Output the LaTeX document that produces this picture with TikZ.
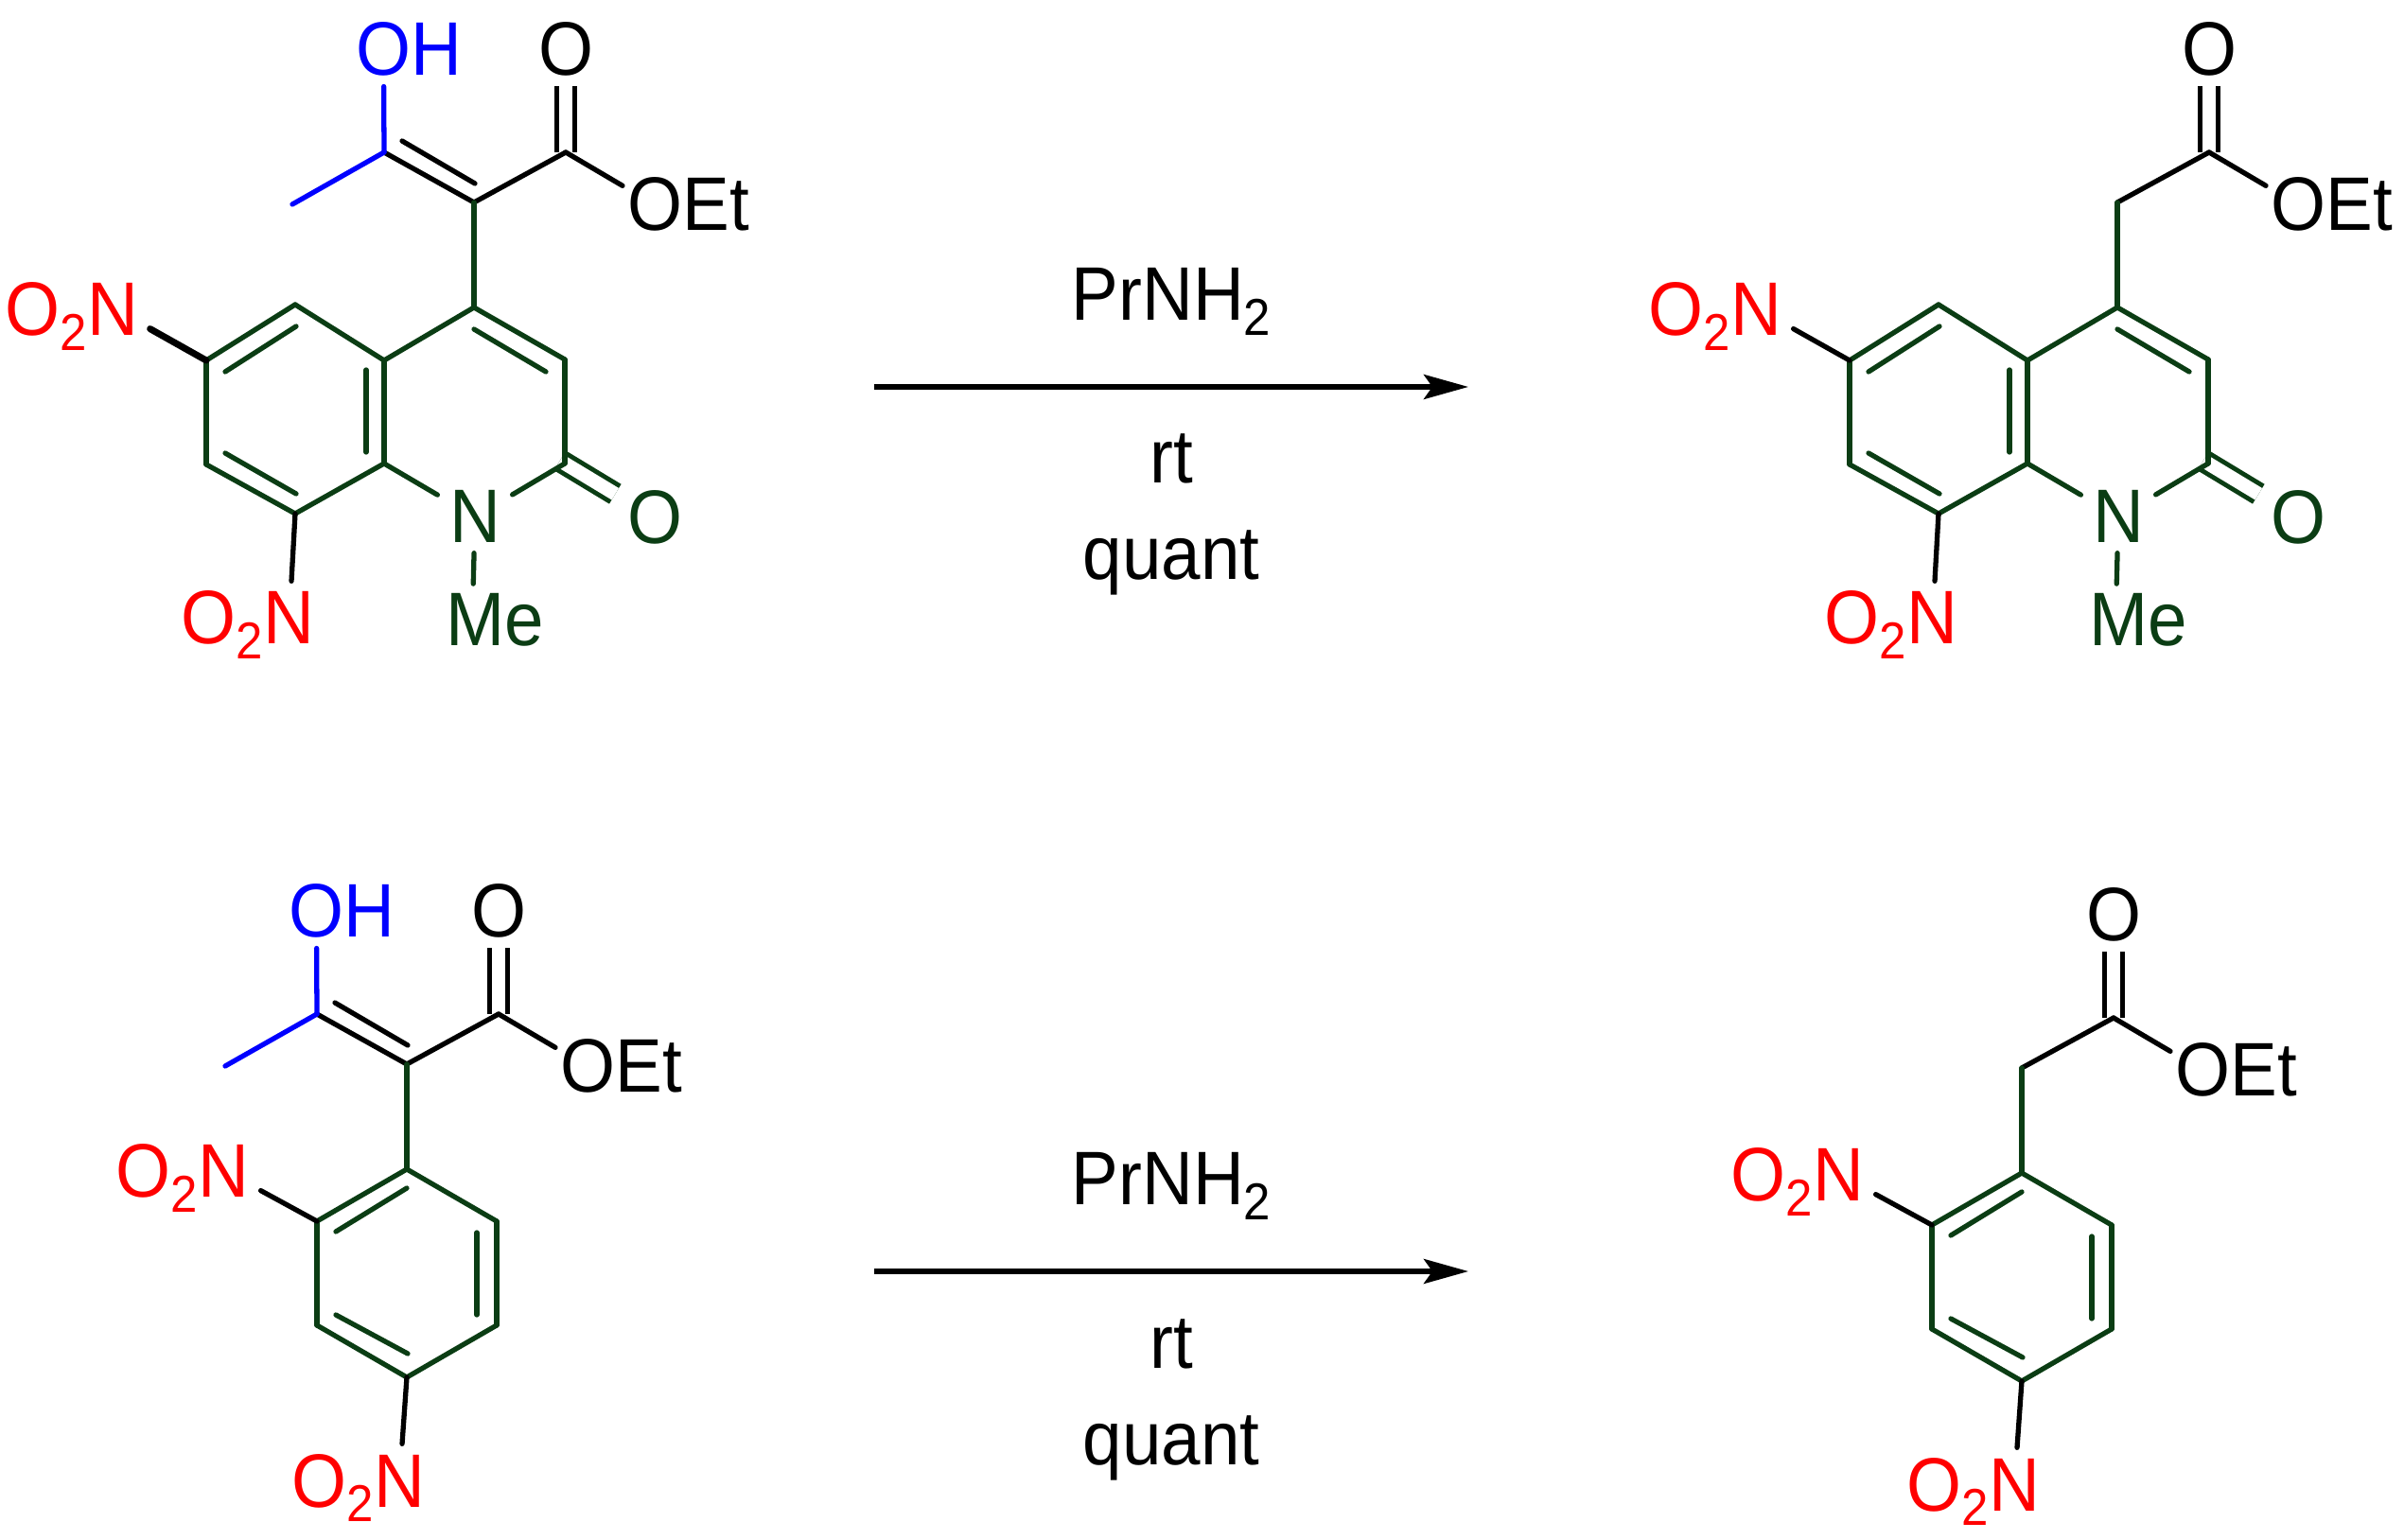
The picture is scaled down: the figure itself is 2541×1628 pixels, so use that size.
\documentclass[tikz,border=0pt]{standalone}
\usepackage{fontspec}
\usepackage{xcolor}
\usetikzlibrary{arrows.meta}

\newfontfamily\chemfont[FakeStretch=0.93]{Liberation Sans}
\definecolor{ringgreen}{RGB}{11,61,20}
\newcommand{\atomfont}{\chemfont\fontsize{22.8pt}{24pt}\selectfont}
\newcommand{\subtwo}{\raisebox{-0.15cm}{\fontsize{15.6pt}{15.6pt}\selectfont 2}}

\tikzset{
  atom/.style={font=\atomfont,inner xsep=0.12cm,inner ysep=0.1cm},
  nitro/.style={atom,text=red,anchor=base west},
  blackbond/.style={black,line width=1.5pt,line cap=round},
  ringbond/.style={ringgreen,line width=1.5pt,line cap=round},
  enolbond/.style={blue,line width=1.5pt,line cap=round},
  nitrobond/.style={black,line width=1.5pt,line cap=round},
  carbonyl/.style={line width=1.4pt,double,double distance=0.145cm,line cap=butt},
  rxnarrow/.style={black,line width=1.45pt,-{Stealth[length=0.47cm,width=0.26cm,inset=0.09cm]}},
}

% the CO2Et arm, hung on (ca)
\newcommand{\estertail}{
  \coordinate (ca) at (501,214);
  \coordinate (cc) at (598,161);
  \node[atom,anchor=base] (o) at (598,80) {O};
  \node[atom,anchor=base west,inner xsep=0.05cm] (oet) at (658,244) {OEt};
  \draw[carbonyl,draw=black] (cc) -- (o);
  \path[blackbond]
  (cc) edge (ca)
       edge (oet.164);
}

% the enol arm, for the two starting materials
\newcommand{\enolarm}{
  \coordinate (coh) at (406,161);
  \coordinate (ci) at (425,149);
  \coordinate (cj) at (502,194);
  \coordinate (ch3) at (309,216);
  \node[atom,anchor=base,text=blue] (oh) at (432,80) {OH};
  \path[blackbond]
  (coh) edge (ca)
  (ci) edge (cj);
  \path[enolbond]
  (coh) edge (oh.236)
        edge (ch3);
}

% dinitroquinolone
\newcommand{\quinolone}{
  \coordinate (c4) at (501,325);
  \coordinate (c4a) at (406,381);
  \coordinate (c8a) at (406,490);
  \coordinate (c8) at (312,543);
  \coordinate (c7) at (218,491);
  \coordinate (c6) at (218,381);
  \coordinate (c5) at (312,322);
  \coordinate (c3) at (597,380);
  \coordinate (c2) at (597,490);
  \coordinate (i5a) at (238,393);
  \coordinate (i5b) at (313,345);
  \coordinate (i7a) at (238,479);
  \coordinate (i7b) at (313,522);
  \coordinate (i4a) at (387,391);
  \coordinate (i4b) at (387,478);
  \coordinate (i3a) at (501,348);
  \coordinate (i3b) at (577,393);
  \node[atom,anchor=base,text=ringgreen] (n) at (502,574) {N};
  \node[atom,anchor=base west,text=ringgreen] (me) at (459,683) {Me};
  \node[atom,anchor=base,text=ringgreen] (ox) at (692,575) {O};
  \node[nitro] (no2a) at (-7,355) {O\subtwo N};
  \node[nitro] (no2b) at (179,681) {O\subtwo N};
  \draw[carbonyl,draw=ringgreen,shorten <=-0.06cm] (c2) -- (ox);
  \path[ringbond]
  (ca) edge (c4)
  (c4) edge (c4a)
       edge (c3)
  (c3) edge (c2)
  (c2) edge (n)
  (n) edge (c8a)
      edge (me.121)
  (c8a) edge (c4a)
        edge (c8)
  (c8) edge (c7)
  (c7) edge (c6)
  (c6) edge (c5)
  (c5) edge (c4a)
  (i5a) edge (i5b)
  (i7a) edge (i7b)
  (i4a) edge (i4b)
  (i3a) edge (i3b);
  \path[nitrobond] (c6) edge (no2a.-9);
  \path[blackbond] (c8) edge (no2b.45);
}

% dinitrophenyl
\newcommand{\dinitrophenyl}{
  \coordinate (p1) at (501,325);
  \coordinate (p2) at (406,380);
  \coordinate (p3) at (406,490);
  \coordinate (p4) at (501,545);
  \coordinate (p5) at (596,490);
  \coordinate (p6) at (596,380);
  \coordinate (i1a) at (501,345);
  \coordinate (i1b) at (426,391);
  \coordinate (i3a) at (426,479);
  \coordinate (i3b) at (502,520);
  \coordinate (i5a) at (575,392);
  \coordinate (i5b) at (575,479);
  \node[nitro] (no2a) at (181,355) {O\subtwo N};
  \node[nitro] (no2b) at (367,682) {O\subtwo N};
  \path[ringbond]
  (ca) edge (p1)
  (p1) edge (p2)
       edge (p6)
  (p2) edge (p3)
  (p3) edge (p4)
  (p4) edge (p5)
  (p5) edge (p6)
  (i1a) edge (i1b)
  (i3a) edge (i3b)
  (i5a) edge (i5b);
  \path[blackbond]
  (p2) edge (no2a.-9)
  (p4) edge (no2b.45);
}

% arrow with its three labels
\newcommand{\reaction}{
  \coordinate (from) at (924,409);
  \coordinate (to) at (1552,409);
  \draw[rxnarrow] (from) -- (to);
  \node[atom,anchor=base] (amine) at (1238,339) {PrNH\subtwo};
  \node[atom,anchor=base] (temp) at (1238,511) {rt};
  \node[atom,anchor=base] (yield) at (1238,613) {quant};
}

\begin{document}
\begin{tikzpicture}[x=0.01cm,y=-0.01cm]
  \useasboundingbox (0,0) rectangle (2541,1628);
  \begin{scope}[name prefix=a-,nitrobond/.append style={line width=2pt}]
    \estertail
    \enolarm
    \quinolone
  \end{scope}
  \begin{scope}[name prefix=b-,shift={(1737,0)}]
    \estertail
    \quinolone
  \end{scope}
  \begin{scope}[name prefix=c-,shift={(-71,911)}]
    \estertail
    \enolarm
    \dinitrophenyl
  \end{scope}
  \begin{scope}[name prefix=d-,shift={(1636,915)}]
    \estertail
    \dinitrophenyl
  \end{scope}
  \begin{scope}[name prefix=r-]
    \reaction
  \end{scope}
  \begin{scope}[name prefix=s-,shift={(0,935)}]
    \reaction
  \end{scope}
\end{tikzpicture}
\end{document}
